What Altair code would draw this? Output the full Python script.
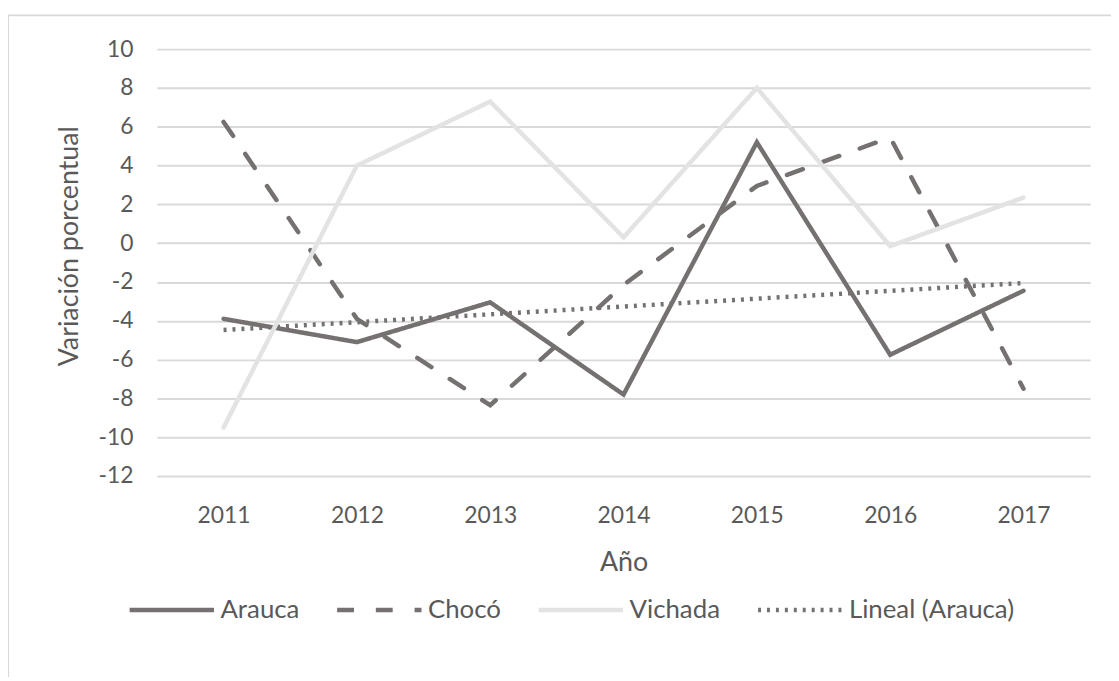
import altair as alt
import pandas as pd

years = [2011, 2012, 2013, 2014, 2015, 2016, 2017]
arauca = [-3.9, -5.1, -3.05, -7.8, 5.2, -5.75, -2.45]
choco = [6.25, -3.9, -8.35, -2.15, 2.95, 5.45, -7.5]
vichada = [-9.5, 4.0, 7.3, 0.3, 8.0, -0.15, 2.35]

series = ["Arauca", "Chocó", "Vichada", "Lineal (Arauca)"]
colors = ["#767171", "#767171", "#E4E3E3", "#767171"]
dashes = [[1, 0], [17, 22], [1, 0], [3, 6]]
widths = [4.5, 4.5, 4.0, 3.0]
y_ticks = list(range(-12, 11, 2))

rows = []
for name, vals in [("Arauca", arauca), ("Chocó", choco), ("Vichada", vichada)]:
    for yr, v in zip(years, vals):
        rows.append({"year": yr, "value": v, "serie": name})
df = pd.DataFrame(rows)

FONT = "Lato"
TXT = "#595959"

color_scale = alt.Scale(domain=series, range=colors)
dash_scale = alt.Scale(domain=series, range=dashes)
width_scale = alt.Scale(domain=series, range=widths)

legend = alt.Legend(
    title=None, orient="none", legendX=-30, legendY=520, direction="horizontal",
    columns=4, symbolType="stroke", symbolSize=7225, labelFontSize=26,
    labelColor=TXT, labelFont=FONT, columnPadding=28, labelOffset=4,
    labelLimit=400,
)

x_enc = alt.X("year:Q", scale=alt.Scale(domain=[2010.5, 2017.5], nice=False),
              axis=alt.Axis(values=years, format="d", title="Año", grid=False,
                            domain=False, ticks=False, labelFontSize=23,
                            labelPadding=29, labelColor=TXT, labelFont=FONT,
                            labelOverlap=False,
                            titleFont=FONT, titleFontSize=27, titleColor=TXT,
                            titleFontWeight="normal", titlePadding=22))
y_enc = alt.Y("value:Q", scale=alt.Scale(domain=[-12, 10], nice=False),
              axis=alt.Axis(values=y_ticks, title="Variación porcentual",
                            labelExpr="datum.value < 0 ? '-' + abs(datum.value) : '' + datum.value",
                            labelOverlap=False,
                            grid=True, gridColor="#D9D9D9", gridWidth=2,
                            domain=False, ticks=False, labelFontSize=23,
                            labelPadding=24, labelColor=TXT, labelFont=FONT,
                            titleFont=FONT, titleFontSize=27, titleColor=TXT,
                            titleFontWeight="normal", titleAngle=270,
                            titleX=-88, titleY=198, titleAlign="center",
                            titleBaseline="middle"))

enc_common = dict(
    x=x_enc, y=y_enc,
    color=alt.Color("serie:N", scale=color_scale, legend=legend, sort=series),
    strokeDash=alt.StrokeDash("serie:N", scale=dash_scale, legend=legend, sort=series),
    strokeWidth=alt.StrokeWidth("serie:N", scale=width_scale, legend=legend, sort=series),
)

lines = alt.Chart(df).mark_line(strokeCap="round", strokeJoin="miter").encode(
    order=alt.Order("year:Q"), **enc_common
)

trend = alt.Chart(df).transform_filter(
    alt.datum.serie == "Arauca"
).transform_regression(
    "year", "value", extent=[2011, 2017]
).transform_calculate(
    serie="'Lineal (Arauca)'"
).mark_line(strokeCap="butt").encode(**enc_common)

frame = alt.Chart(pd.DataFrame({"a": [0]})).mark_rect(
    fill=None, stroke="#D9D9D9", strokeWidth=2
).encode(x=alt.value(-150), x2=alt.value(1000), y=alt.value(-34), y2=alt.value(700))

chart = alt.layer(frame, trend, lines).properties(
    width=940, height=430, autosize="none",
    padding={"left": 150, "top": 39, "right": 21, "bottom": 200},
    background="white",
).configure_view(stroke=None)

chart.save("out.html", embed_options={"renderer": "svg", "actions": False})
